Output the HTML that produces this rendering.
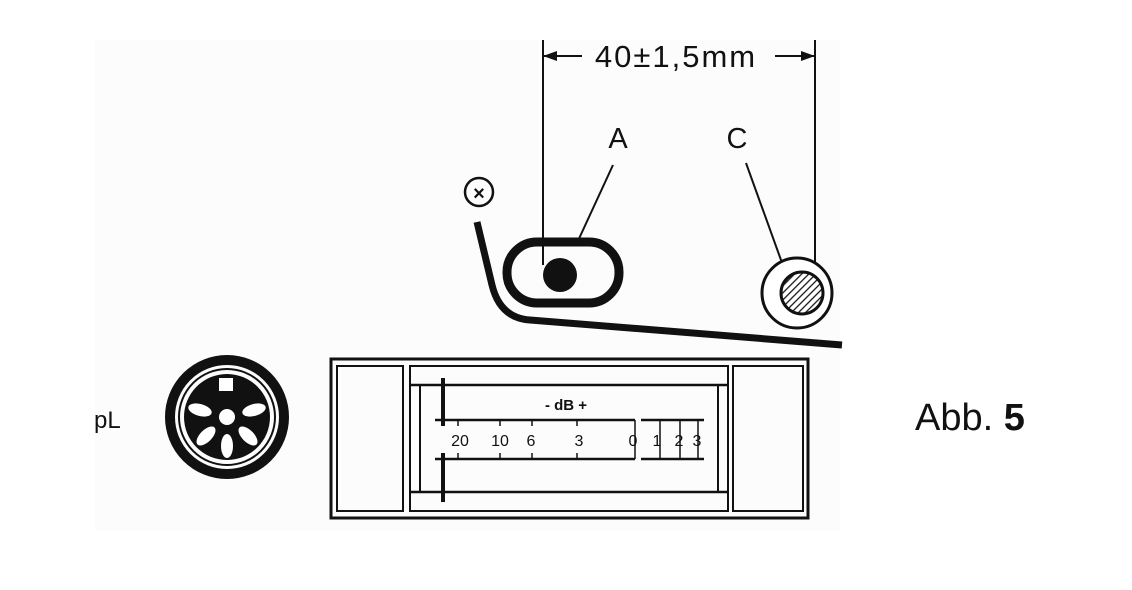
<!DOCTYPE html>
<html><head><style>
body{margin:0;background:#fff;}
svg{display:block}
text{font-family:"Liberation Sans",sans-serif;}
</style></head><body>
<svg width="1132" height="590" viewBox="0 0 1132 590" xmlns="http://www.w3.org/2000/svg">
<defs>
<pattern id="h" width="5" height="5" patternUnits="userSpaceOnUse" patternTransform="rotate(45)">
<rect width="5" height="5" fill="#fff"/><line x1="0" y1="0" x2="0" y2="5" stroke="#111" stroke-width="2.5"/></pattern>
</defs>
<rect x="95" y="40" width="745" height="490" fill="#fcfcfc"/>
<g stroke="#111" stroke-width="2" fill="none">
<line x1="543" y1="40" x2="543" y2="265"/>
<line x1="815" y1="40" x2="815" y2="292"/>
<line x1="543" y1="56" x2="582" y2="56"/>
<line x1="775" y1="56" x2="815" y2="56"/>
<line x1="613" y1="165" x2="577" y2="243"/>
<line x1="746" y1="163" x2="790" y2="285"/>
</g>
<polygon points="543,56 557,51 557,61" fill="#111"/>
<polygon points="815,56 801,51 801,61" fill="#111"/>
<text x="676" y="67" font-size="31" letter-spacing="2" text-anchor="middle" fill="#111">40±1,5mm</text>
<text x="618" y="148" font-size="29" text-anchor="middle" fill="#111">A</text>
<text x="737" y="148" font-size="29" text-anchor="middle" fill="#111">C</text>
<circle cx="479" cy="192" r="14" fill="none" stroke="#111" stroke-width="2.5"/>
<text x="479" y="200" font-size="20" text-anchor="middle" font-weight="bold" fill="#111">×</text>
<rect x="507" y="242" width="112" height="61" rx="30" fill="none" stroke="#111" stroke-width="9"/>
<circle cx="560" cy="275" r="17" fill="#111"/>
<circle cx="797" cy="293" r="35" fill="#fff" stroke="#111" stroke-width="3"/>
<circle cx="802" cy="293" r="21" fill="url(#h)" stroke="#111" stroke-width="3"/>
<path d="M477,222 L492,285 Q500,318 530,320 L842,345" fill="none" stroke="#111" stroke-width="7"/>
<g fill="none" stroke="#111">
<rect x="331" y="359" width="477" height="159" stroke-width="3"/>
<rect x="337" y="366" width="66" height="145" stroke-width="2"/>
<rect x="410" y="366" width="318" height="145" stroke-width="2"/>
<rect x="733" y="366" width="70" height="145" stroke-width="2"/>
<line x1="410" y1="385" x2="728" y2="385" stroke-width="2.5"/>
<line x1="410" y1="492" x2="728" y2="492" stroke-width="2.5"/>
<line x1="420" y1="385" x2="420" y2="492" stroke-width="2"/>
<line x1="718" y1="385" x2="718" y2="492" stroke-width="2"/>
<line x1="435" y1="420" x2="635" y2="420" stroke-width="2.5"/>
<line x1="641" y1="420" x2="704" y2="420" stroke-width="2.5"/>
<line x1="435" y1="459" x2="635" y2="459" stroke-width="2.5"/>
<line x1="641" y1="459" x2="704" y2="459" stroke-width="2.5"/>
<line x1="443" y1="378" x2="443" y2="426" stroke-width="4"/>
<line x1="443" y1="453" x2="443" y2="502" stroke-width="4"/>
<g stroke-width="1.5">
<line x1="458" y1="420" x2="458" y2="426"/><line x1="458" y1="453" x2="458" y2="459"/>
<line x1="500" y1="420" x2="500" y2="426"/><line x1="500" y1="453" x2="500" y2="459"/>
<line x1="532" y1="420" x2="532" y2="426"/><line x1="532" y1="453" x2="532" y2="459"/>
<line x1="577" y1="420" x2="577" y2="426"/><line x1="577" y1="453" x2="577" y2="459"/>
<line x1="635" y1="420" x2="635" y2="459"/>
<line x1="660" y1="420" x2="660" y2="459"/>
<line x1="680" y1="420" x2="680" y2="459"/>
<line x1="698" y1="420" x2="698" y2="459"/>
</g>
</g>
<text x="566" y="410" font-size="15" text-anchor="middle" fill="#111" font-weight="bold">-  dB  +</text>
<g font-size="16" fill="#111" text-anchor="middle">
<text x="460" y="446">20</text><text x="500" y="446">10</text><text x="531" y="446">6</text>
<text x="579" y="446">3</text><text x="633" y="446">0</text><text x="657" y="446">1</text>
<text x="679" y="446">2</text><text x="697" y="446">3</text>
</g>
<circle cx="227" cy="417" r="57" fill="none" stroke="#111" stroke-width="10"/>
<circle cx="227" cy="417" r="48" fill="none" stroke="#111" stroke-width="2"/>
<circle cx="227" cy="417" r="43" fill="#111"/>
<rect x="219" y="378" width="14" height="13" fill="#fff"/>
<circle cx="227" cy="417" r="8" fill="#fff"/>
<g fill="#fff">
<ellipse cx="200" cy="410" rx="12" ry="6" transform="rotate(15 200 410)"/>
<ellipse cx="254" cy="410" rx="12" ry="6" transform="rotate(-15 254 410)"/>
<ellipse cx="206" cy="436" rx="12" ry="6" transform="rotate(-45 206 436)"/>
<ellipse cx="248" cy="436" rx="12" ry="6" transform="rotate(45 248 436)"/>
<ellipse cx="227" cy="446" rx="6" ry="12"/>
</g>
<text x="94" y="428" font-size="24" fill="#111">pL</text>
<text x="915" y="430" font-size="38" fill="#111">Abb. <tspan font-weight="bold">5</tspan></text>
</svg>
</body></html>
